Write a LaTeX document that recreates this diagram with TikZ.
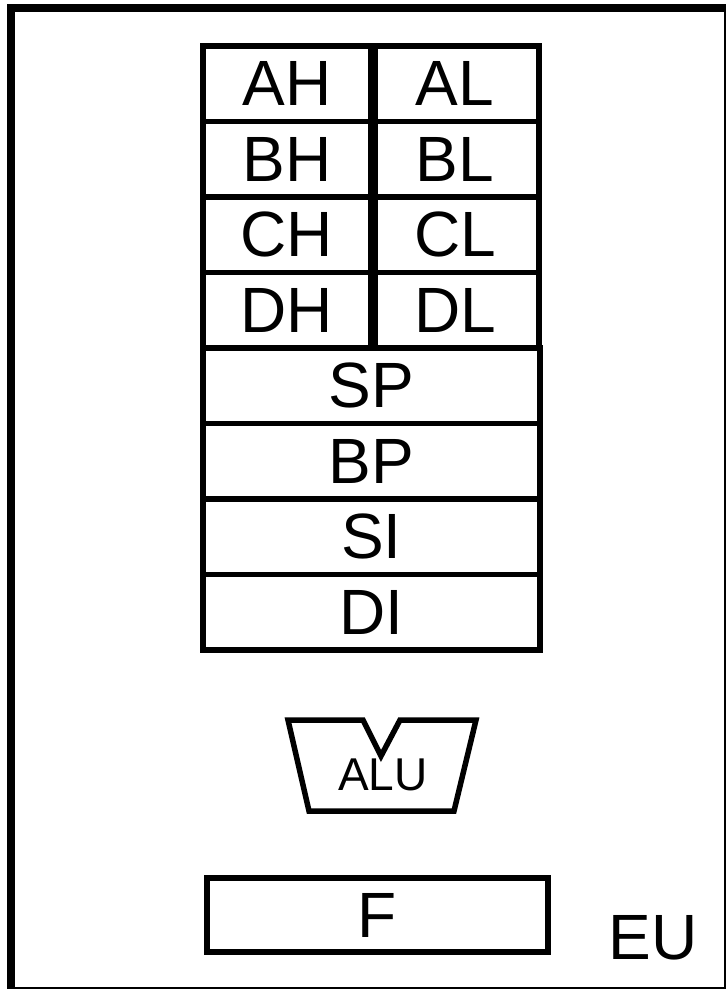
\documentclass[tikz,border=0pt]{standalone}
\usepackage{fontspec}
\setmainfont{Liberation Sans}
\begin{document}
\begin{tikzpicture}[x=1pt,y=-1pt,
  reg/.style={draw,line width=5.5pt,minimum width=168pt,minimum height=75.5pt,inner sep=0pt,font=\fontsize{64}{64}\selectfont},
  wreg/.style={reg,minimum width=337pt},
  flagbox/.style={draw,line width=6pt,minimum width=341pt,minimum height=74pt,inner sep=0pt,font=\fontsize{64}{64}\selectfont},
  alushape/.style={draw,line width=5.5pt,line join=miter},
  lbl/.style={inner sep=0pt,font=\fontsize{64}{64}\selectfont}]
\useasboundingbox (0,0) rectangle (726,989);
\clip (0,0) rectangle (726,989);
\draw[line width=8pt] (11,8) rectangle (727.5,991);
% registers
\node[reg] (AH) at (287,83.75) {AH};
\node[reg] (AL) at (455,83.75) {AL};
\node[reg] (BH) at (287,159.25) {BH};
\node[reg] (BL) at (455,159.25) {BL};
\node[reg] (CH) at (287,234.75) {CH};
\node[reg] (CL) at (455,234.75) {CL};
\node[reg] (DH) at (287,310.25) {DH};
\node[reg] (DL) at (455,310.25) {DL};
\node[wreg] (SP) at (371.5,385.75) {SP};
\node[wreg] (BP) at (371.5,461.25) {BP};
\node[wreg] (SI) at (371.5,536.75) {SI};
\node[wreg] (DI) at (371.5,612.25) {DI};
\draw[line width=8pt] (AH.north east) -- (DH.south east);
% ALU
\draw[alushape] (288,720) -- (363,720) -- (381,756) -- (400,720) -- (476,720) -- (454,811) -- (309,811) -- cycle;
\node[inner sep=0pt,font=\fontsize{46}{46}\selectfont] (ALU) at (383,774.5) {ALU};
% flags
\node[flagbox] (F) at (377.5,915) {F};
\node[lbl] (EU) at (653,938) {EU};
\end{tikzpicture}
\end{document}
